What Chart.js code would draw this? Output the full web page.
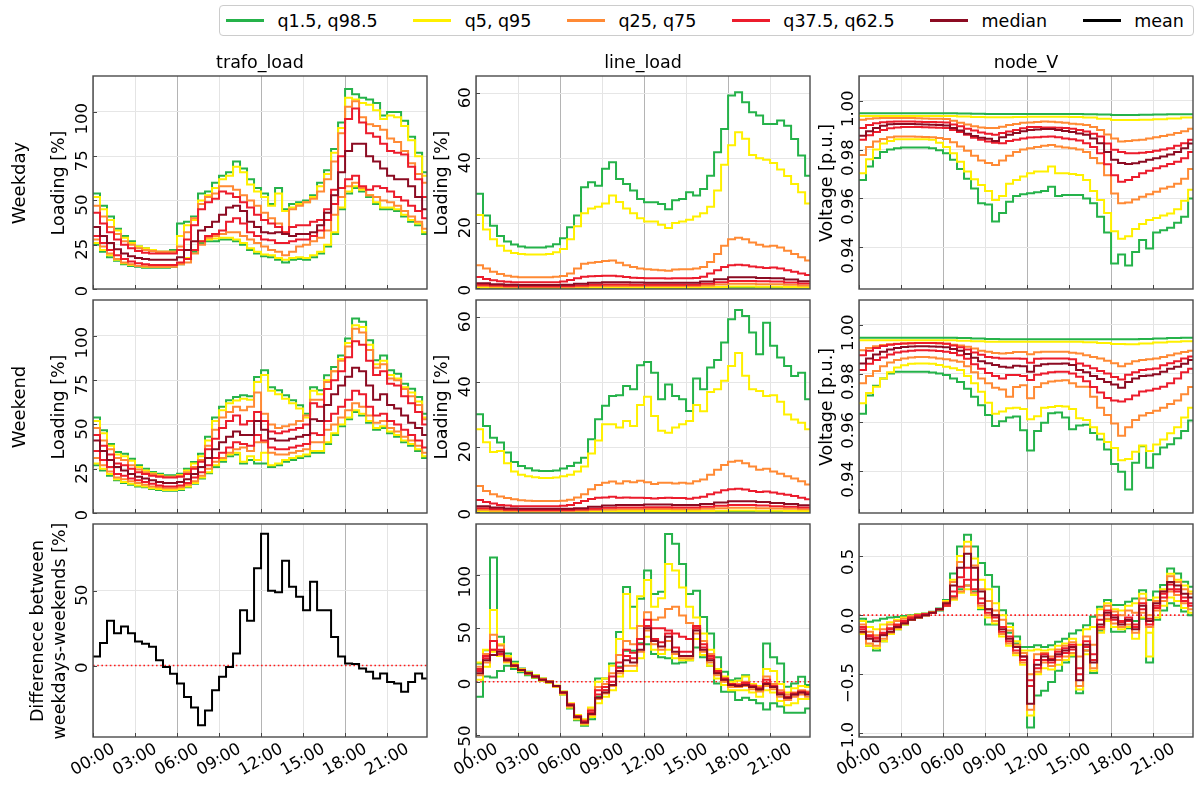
<!DOCTYPE html>
<html>
<head>
<meta charset="utf-8">
<script src="https://cdn.jsdelivr.net/npm/chart.js@4/dist/chart.umd.min.js"></script>
<style>
  body { margin: 0; background: #fff; font-family: "DejaVu Sans", sans-serif; }
  #fig { position: relative; width: 1196px; height: 785px; overflow: hidden; background: #fff; }
  canvas { position: absolute; }
  .lbl { position: absolute; white-space: nowrap; color: #000; line-height: 1; }
  .rot { transform: translate(-50%, -50%) rotate(-90deg); }
  .ctr { transform: translate(-50%, -50%); }
  #legend { position: absolute; left: 219px; top: 5px; width: 975px; height: 31px; border: 1px solid #cccccc;
            border-radius: 4px; display: flex; align-items: center; padding-left: 6px; box-sizing: border-box; }
  #legend .item { display: flex; align-items: center; margin-right: 35.5px; font-size: 17.5px;
                  white-space: nowrap; flex-shrink: 0; }
  #legend .swatch { width: 38px; height: 2.4px; margin-right: 13.5px; flex-shrink: 0; }
</style>
</head>
<body>
<div id="fig"><div id="legend"></div></div>
<script>
// x axis: one day, 00:00 .. 23:xx, values at regular steps
const hourTicks = [0, 3, 6, 9, 12, 15, 18, 21]
const hourLabels = ["00:00", "03:00", "06:00", "09:00", "12:00", "15:00", "18:00", "21:00"]

// y ticks per panel type
const trafoTicks = [0, 25, 50, 75, 100]
const lineTicks = [0, 20, 40, 60]
const nodeTicks = [0.94, 0.96, 0.98, 1.0]
const trafoDiffTicks = [0, 50]
const lineDiffTicks = [-50, 0, 50, 100]
const nodeDiffTicks = [-1.0, -0.5, 0.0, 0.5]

const colTitles = ["trafo_load", "line_load", "node_V"]
const rowTitles = ["Weekday", "Weekend"]
const legendNames = ["q1.5, q98.5", "q5, q95", "q25, q75", "q37.5, q62.5", "median", "mean"]
const legendColors = ["#25b24a", "#fff000", "#ff8a35", "#ec1c2c", "#8c0b22", "#000000"]

// ---- trafo_load, weekday (half-hour steps) ----
const trafoWd_q98_5 = [54,47,41,34,30,27,24,23,22,21,21,22, 37,38,41,54,55,60,64,66,72,68,62,57, 54,48,57,45,48,49,50,53,60,67,79,94, 113,110,108,107,105,98,100,100,95,86,77,66]
const trafoWd_q95 = [52,45,39,33,29,26,24,23,22,21,21,21, 30,36,39,50,53,57,62,64,69,66,59,55, 52,47,54,44,46,48,49,52,58,65,77,91, 108,107,105,104,101,96,98,97,92,84,75,64]
const trafoWd_q75 = [47,41,35,31,27,25,23,22,21.5,21,21,21, 24,32,40,48,52,54,58,58,56,53,50,47, 43,40,37,32,45,47,49,51,55,62,72,88, 103,106,97,93,92,90,85,83,78,71,65,60]
const trafoWd_q62_5 = [43,37,32,28,25,23,21.5,20.5,20,20,20,20, 22,28,36,45,49,51,55,54,52,49,46,42, 39,37,35,32,35,36,36,38,39,45,56,75, 96,102,94,88,86,82,78,77,76,69,62,52]
const trafoWd_med = [35,30,26,22.5,20,18.5,17.5,17,16.5,16.5,16.5,16.5, 18,22,27,33,35,38,42,46,47,44,38,35, 32,31.5,32,31,30,31,31,32,36,43,53,66, 78,82,82,75,72,68,64,62,62,58,52,45]
const trafoWd_q37_5 = [30,26,22,19,17,15.5,14.5,14,13.5,13.5,13.5,13.5, 15,17,22,27,30,31,33,38,40,37,32,30, 28,27.5,26,26,27,28,28,30,33,39,48,57, 62,64,58,56,58,57,55,52,50,47,44,40]
const trafoWd_q25 = [28,24,20,17,15,14,13,12.8,12.6,12.6,12.6,12.6, 14,15,20,25,29,30,31,32,32,30,28,26, 24,22,21,19,21,24,25,27,29,33,42,52, 58,60,57,53,52,50,49,47,44,41,38,34]
const trafoWd_q5 = [26,22,19,16.5,14.5,13.5,13,12.5,12.5,12.5,12.5,13, 14.5,17.5,22,27,28,28.5,29,29,28,26,23,21, 19.5,19,17.5,16.5,17.5,18,17.5,19,21,25,32,46, 55,58,56,53,49,46,46,45,42,39,37,32]
const trafoWd_q1_5 = [25,21,18,16,14,13,12.5,12,12,12,12,12.5, 14,17,21,26,27,27,28,28,27,25,22,20, 18.5,18,16.5,15,16.5,17,16.5,18,20,24,31,45, 54,57,55,52,48,45,45,44,41,38,36,31]

// ---- line_load, weekday ----
const lineWd_q98_5 = [29,22.3,19.2,16,14.3,13.4,12.8,12.5,12.5,12.5,12.8,13.5, 15.3,18.7,22.3,31,32.6,31.5,36.7,38.7,33.6,32,30,27.4, 26.4,26.4,25.9,24.3,27,27.4,29.5,28.5,30.5,34.6,41.8,49, 59.3,60.3,57.2,54.1,53.1,50.5,50.5,51.6,50,45.9,40.8,34.6]
const lineWd_q95 = [22.5,18,15,13,11.5,10.8,10.5,10.3,10.3,10.3,10.5,11, 12,15,19,23,24.5,25,26,28.5,26.5,24.5,23,21.5, 20.5,20.5,19.5,18.5,20,20.5,21,22,23,25,30,38, 44,48,46,41,40,39.5,38.5,36.5,34.5,32,29.5,26]
const lineWd_q75 = [7,6,5,4.3,3.8,3.5,3.3,3.3,3.3,3.3,3.3,3.5, 3.7,4.5,6,7.5,7.8,8,8.3,8.5,7.8,7,6.5,6, 5.8,5.6,5.5,5.3,5.7,5.8,5.8,6,6.5,8,10.5,13, 15,15.5,15,14,13.3,12.8,13,12.5,11.5,10.5,9.5,8.5]
const lineWd_q62_5 = [3.4,2.8,2.4,2.1,1.9,1.8,1.8,1.8,1.8,1.8,1.8,1.8, 2,2.5,3,3.5,3.6,3.7,3.8,3.8,3.6,3.4,3.2,3.1, 3,3,3,2.9,3,3,3,3.1,3.5,4.5,5.5,6.5, 7,7.2,7,6.6,6.4,6.2,6.3,6,5.5,5,4.5,4]
// hourly steps for the flat low bands
const lineWd_med = [1.5,1.2,1.0,0.9,0.9,0.9,1.0,1.3,1.6,1.8,1.8,1.7,1.6,1.6,1.6,1.6,2.0,2.7,3.3,3.3,3.1,3.0,2.6,2.1]
const lineWd_q37_5 = [1.0,0.8,0.6,0.55,0.55,0.55,0.6,0.8,1.0,1.1,1.1,1.0,1.0,1.0,1.0,1.0,1.3,1.8,2.2,2.2,2.1,2.0,1.7,1.4]
const lineWd_q25 = [0.6,0.45,0.35,0.3,0.3,0.3,0.35,0.45,0.6,0.65,0.65,0.6,0.6,0.6,0.6,0.6,0.8,1.1,1.3,1.3,1.2,1.2,1.0,0.8]
const lineWd_q5 = [0.2,0.15,0.12,0.1,0.1,0.1,0.12,0.15,0.2,0.22,0.22,0.2,0.2,0.2,0.2,0.2,0.25,0.35,0.45,0.45,0.4,0.4,0.35,0.25]
const lineWd_q1_5 = [0.05,0.04,0.03,0.03,0.03,0.03,0.03,0.04,0.05,0.06,0.06,0.05,0.05,0.05,0.05,0.05,0.07,0.1,0.15,0.15,0.13,0.12,0.1,0.07]

// ---- node_V, weekday ----
const nodeWd_q98_5 = [0.9948,0.9948,0.9948,0.9948,0.9948,0.9948,0.9948,0.9947,0.9946,0.9945,0.9945,0.9945,0.9945,0.9945,0.9945,0.9945,0.9944,0.9943,0.9941,0.9941,0.9942,0.9943,0.9944,0.9944]
const nodeWd_q95 = [0.9937,0.9937,0.9937,0.9937,0.9937,0.9937,0.9937,0.9935,0.9933,0.9932,0.9932,0.9933,0.9934,0.9934,0.9934,0.9933,0.9931,0.9926,0.9921,0.9921,0.9922,0.9924,0.9927,0.9931]
const nodeWd_q75 = [0.9922,0.9926,0.9928,0.9929,0.9929,0.9929,0.9929,0.9929,0.9928,0.9927,0.9926,0.9926, 0.9925,0.9918,0.991,0.9902,0.9895,0.989,0.9888,0.9888,0.9893,0.99,0.9905,0.991, 0.9911,0.9913,0.9915,0.9914,0.9912,0.991,0.9906,0.9903,0.99,0.9892,0.988,0.9862, 0.9845,0.9833,0.9835,0.9838,0.984,0.9845,0.985,0.9855,0.986,0.9868,0.9875,0.9885]
const nodeWd_q62_5 = [0.9888,0.99,0.9908,0.9912,0.9914,0.9915,0.9915,0.9915,0.9914,0.9913,0.9913,0.9912, 0.9911,0.9902,0.9895,0.9885,0.9878,0.987,0.9865,0.986,0.9868,0.9874,0.988,0.9887, 0.9892,0.9892,0.989,0.989,0.9889,0.9888,0.9885,0.988,0.9874,0.9865,0.9853,0.9825, 0.9799,0.979,0.9785,0.9785,0.9787,0.979,0.9795,0.98,0.9805,0.9815,0.9826,0.984]
const nodeWd_med = [0.9856,0.9875,0.9888,0.9897,0.9903,0.9905,0.9905,0.9904,0.9903,0.9902,0.9901,0.99, 0.9898,0.9888,0.9878,0.9865,0.9855,0.9848,0.9844,0.9835,0.985,0.986,0.9868,0.9875, 0.988,0.9882,0.9884,0.9884,0.988,0.9876,0.9872,0.9866,0.986,0.9845,0.9826,0.979, 0.9758,0.9745,0.9741,0.9744,0.975,0.9758,0.9764,0.9771,0.978,0.979,0.9805,0.9825]
const nodeWd_q37_5 = [0.984,0.9858,0.9872,0.988,0.9887,0.989,0.9892,0.9892,0.9892,0.9891,0.989,0.9889, 0.9888,0.988,0.9872,0.986,0.9848,0.984,0.9833,0.9828,0.9826,0.9835,0.984,0.9845, 0.9849,0.985,0.9852,0.9853,0.985,0.9845,0.9842,0.9837,0.9826,0.981,0.9785,0.974, 0.9695,0.9668,0.9675,0.9688,0.9703,0.9713,0.9723,0.9732,0.9741,0.975,0.9764,0.979]
const nodeWd_q25 = [0.9778,0.981,0.9833,0.9843,0.985,0.9853,0.9853,0.9853,0.9852,0.9851,0.985,0.9847, 0.9843,0.983,0.9812,0.9795,0.9775,0.9755,0.9745,0.9737,0.9755,0.9775,0.979,0.98, 0.9805,0.981,0.9815,0.9819,0.9812,0.9808,0.9805,0.98,0.979,0.9765,0.9744,0.9695, 0.962,0.958,0.9583,0.9595,0.9607,0.9617,0.9627,0.964,0.9648,0.966,0.968,0.972]
const nodeWd_q5 = [0.9703,0.976,0.98,0.9825,0.9835,0.9842,0.9842,0.9842,0.9842,0.9842,0.984,0.9828, 0.981,0.9785,0.975,0.971,0.9678,0.9655,0.963,0.9593,0.961,0.966,0.9675,0.969, 0.9703,0.971,0.971,0.973,0.9703,0.9703,0.97,0.9696,0.9675,0.963,0.9593,0.954, 0.9465,0.9435,0.9445,0.9475,0.9495,0.9511,0.952,0.953,0.9538,0.9555,0.959,0.9635]
const nodeWd_q1_5 = [0.9675,0.973,0.9765,0.979,0.98,0.9805,0.9808,0.9808,0.9808,0.9808,0.9805,0.9797, 0.9785,0.9758,0.972,0.968,0.964,0.958,0.9575,0.9505,0.954,0.9586,0.961,0.9617, 0.9621,0.9625,0.963,0.9648,0.961,0.9614,0.9614,0.9614,0.96,0.958,0.9525,0.946, 0.9333,0.937,0.9325,0.938,0.943,0.9395,0.946,0.947,0.948,0.95,0.9525,0.96]

// ---- trafo_load, weekend ----
const trafoWe_q98_5 = [54,46.7,39,34.5,33.5,30.7,27,25,23.2,22.2,21.3,21.3, 22.2,25,28.8,33.5,43,54,60,63.7,65.5,66.5,66,76.8, 80.6,71,69.3,66.5,63.7,60.8,56,71,69.3,77.8,82.5,89, 98.5,109.8,108,97.6,86.3,89,80.6,78.7,73,70.2,65.5,56]
const trafoWe_q95 = [52,45,38,33,32,29.5,26,24,22.5,21.5,20.5,20.5, 21.5,24,28,32,41,52,58,62,63.5,64.5,64,74, 78,69,67,64.5,62,59,54,69,67,75,80,87, 96,106,105,95,84,86,78,76,71,68,63,54]
const trafoWe_q75 = [48,41,36,31,30,27,24.5,23,22,21,20.5,20.5, 21,23,26,30,38,47,54,57,60,58,60,68, 56,50,48,49,50,52,55,64,64,74,80,86, 94,104,102,92,82,84,76,75,70,66,61,53]
const trafoWe_q62_5 = [44,38,33,28,27,25,23,22,21,20.5,20,20, 20.5,22,25,29,36,42,48,52,55,50,52,57, 52,46,45,46,47,48,50,62,60,70,75,80, 88,97,95,86,78,80,73,72,66,62,57,50]
const trafoWe_med = [41,35,30,26,24,22,20.5,19.5,18.5,17.5,17,17, 17.5,19,22,26,31,36,40,43,46,44,44,52, 47,42,41,41,42,43,44,53,52,61,67,72, 77,82,80,72,64,67,61,59,55,51,48,44]
const trafoWe_q37_5 = [35,30,26,22,21,19.5,18.5,17.5,16.5,15.5,15,15, 15.5,17,20,23,27,31,34,37,40,39,38,44, 41,37,36,36,37,38,39,45,44,52,56,60, 64,69,67,60,55,56,52,50,47,44,41,37]
const trafoWe_q25 = [31,27,23.5,20,19,18,17,16,15,14.5,14,14, 14.5,16,18,21,25,29,31,34,36,37,35,40, 40,34,33,33,34,35,36,40,40,47,50,54, 58,62,60,55,51,52,48,46,43,41,38,34]
const trafoWe_q5 = [28,25,22,19,17.5,16.5,15.5,15,14,13.5,13,13, 13.5,15,17,20,23,27,30,33,34,29,32,30, 34,27,28,30,31,32,33,35,35,40,45,50, 54,58,56,52,48,49,46,44,41,39,36,32]
const trafoWe_q1_5 = [27,24,21,18.5,17,16,15,14.5,13.5,13,12.5,12.5, 13,14.5,16.5,19.5,22.5,26,29,32,33,28,30,28, 28,26,27,29,30,31,32,34,34,39,44,49, 53,57,55,51,47,48,45,43,40,38,35,31]

// ---- line_load, weekend ----
const lineWe_q98_5 = [30.1,26.5,22.9,21.4,18.3,15.4,14.2,13.5,12.8,12.6,12.6,12.8, 13.4,14.2,15.2,16.7,22.4,28.6,32.7,35.7,36,38.8,37.8,45.2, 46.2,42.9,34.7,39.3,35.7,34.7,31.1,41.1,37.8,44.5,46.8,52.2, 59.4,62.2,60.4,55.3,48.6,58.3,51.2,47.6,45,41.9,42.9,34.7]
const lineWe_q95 = [25.5,21.5,18.5,18.8,15,12.5,11.5,11,10.7,10.5,10.5,10.6, 11,11.5,12.5,14,18,22,27,27,26,28,26.5,33, 35.5,29.6,25,24.4,26,27,28,33,31,37,37.8,40.4, 45,49,42,37.8,37.3,35.7,36,34,30,28.5,27.5,25.5]
const lineWe_q75 = [8,6.5,5.5,4.8,4.3,3.9,3.6,3.5,3.4,3.4,3.4,3.4, 3.5,3.8,4.5,5.5,7,8.3,9,9.4,8.8,9.5,9.2,9.6, 9.2,8.6,9,9,8.8,9,8.8,9.5,10,11.5,13,14.5, 15.5,15.8,15,14,13,13.3,12.5,11.8,11,10.3,9.5,8.5]
const lineWe_q62_5 = [3.7,3.1,2.6,2.2,2,1.8,1.8,1.8,1.8,1.8,1.8,1.8, 1.9,2.2,2.8,3.4,4,4.4,4.5,4.7,4.4,4.5,4.4,4.4, 4.3,4.2,4.3,4.4,4.3,4.3,4.1,4.4,4.7,5.5,6,6.7, 7,7.2,6.9,6.5,6.2,6.3,6,5.6,5.3,4.9,4.4,3.9]
const lineWe_med = [1.8,1.4,1.1,1.0,1.0,1.0,1.0,1.2,1.6,2.0,2.2,2.2,2.3,2.3,2.2,2.2,2.5,2.9,3.3,3.3,3.1,2.8,2.5,2.1]
const lineWe_q37_5 = [1.2,0.9,0.7,0.6,0.6,0.6,0.6,0.75,1.0,1.3,1.4,1.4,1.5,1.5,1.4,1.4,1.6,1.9,2.2,2.2,2.0,1.8,1.6,1.4]
const lineWe_q25 = [0.7,0.5,0.4,0.35,0.35,0.35,0.35,0.45,0.6,0.8,0.85,0.85,0.9,0.9,0.85,0.85,1.0,1.15,1.3,1.3,1.2,1.1,1.0,0.85]
const lineWe_q5 = [0.25,0.18,0.14,0.12,0.12,0.12,0.12,0.15,0.2,0.27,0.3,0.3,0.3,0.3,0.3,0.3,0.34,0.4,0.45,0.45,0.42,0.38,0.34,0.3]
const lineWe_q1_5 = [0.06,0.05,0.04,0.03,0.03,0.03,0.03,0.04,0.05,0.07,0.08,0.08,0.08,0.08,0.08,0.08,0.09,0.11,0.14,0.14,0.13,0.11,0.1,0.08]

// ---- node_V, weekend ----
const nodeWe_q98_5 = [0.9946,0.9946,0.9946,0.9946,0.9946,0.9946,0.9946,0.9945,0.9943,0.9941,0.994,0.994,0.994,0.994,0.994,0.994,0.994,0.994,0.994,0.994,0.9941,0.9943,0.9945,0.9946]
const nodeWe_q95 = [0.9936,0.9936,0.9936,0.9936,0.9936,0.9936,0.9936,0.9934,0.9932,0.993,0.993,0.993,0.993,0.993,0.993,0.993,0.9928,0.9925,0.9921,0.992,0.9923,0.9927,0.993,0.9932]
const nodeWe_q75 = [0.9895,0.9905,0.9912,0.9917,0.992,0.9922,0.9923,0.9924,0.9925,0.9925,0.9925,0.9924, 0.9922,0.9918,0.9915,0.991,0.9902,0.9893,0.9889,0.9884,0.9882,0.9884,0.9888,0.9888, 0.9879,0.9887,0.9889,0.9889,0.9889,0.9889,0.9885,0.9882,0.9875,0.9868,0.9862,0.9852, 0.9842,0.983,0.984,0.985,0.9855,0.9858,0.9862,0.9868,0.9875,0.9882,0.9888,0.9893]
const nodeWe_q62_5 = [0.9875,0.9893,0.9905,0.9913,0.9918,0.9921,0.9923,0.9924,0.9925,0.9925,0.9925,0.9924, 0.9922,0.9915,0.9908,0.9898,0.9886,0.9877,0.9868,0.9865,0.9862,0.9862,0.9862,0.986, 0.9844,0.986,0.9862,0.9862,0.9862,0.9862,0.9858,0.9841,0.9832,0.9822,0.981,0.98, 0.9786,0.9776,0.9795,0.9805,0.9814,0.9818,0.9821,0.9834,0.9842,0.985,0.9862,0.987]
const nodeWe_med = [0.9841,0.9862,0.9878,0.9889,0.9898,0.9905,0.9909,0.9911,0.9912,0.9912,0.9911,0.991, 0.9908,0.99,0.9893,0.988,0.9865,0.985,0.9842,0.9835,0.9828,0.9825,0.9832,0.983, 0.9807,0.9832,0.9838,0.984,0.984,0.9841,0.9835,0.9814,0.9805,0.979,0.9778,0.9765, 0.9755,0.9742,0.9765,0.978,0.979,0.9792,0.9797,0.9807,0.982,0.9828,0.984,0.9855]
const nodeWe_q37_5 = [0.9814,0.984,0.9855,0.9866,0.9878,0.9886,0.989,0.9893,0.9895,0.9895,0.9894,0.9892, 0.9889,0.9884,0.9875,0.986,0.9838,0.982,0.9802,0.979,0.978,0.9794,0.9794,0.979, 0.9773,0.9795,0.98,0.9805,0.9807,0.9807,0.98,0.9787,0.9768,0.9745,0.9722,0.97, 0.969,0.9685,0.9695,0.971,0.9726,0.973,0.9738,0.9746,0.976,0.978,0.9805,0.982]
const nodeWe_q25 = [0.976,0.979,0.981,0.983,0.9845,0.9855,0.9862,0.9866,0.9868,0.9868,0.9866,0.9862, 0.9858,0.9853,0.9848,0.983,0.9805,0.978,0.976,0.9742,0.9735,0.9705,0.9745,0.9752, 0.9699,0.9745,0.976,0.9767,0.977,0.9772,0.976,0.9746,0.9746,0.9705,0.966,0.963, 0.9595,0.9545,0.958,0.961,0.9628,0.9638,0.9648,0.966,0.9675,0.969,0.9715,0.9745]
const nodeWe_q5 = [0.9678,0.972,0.9746,0.978,0.9805,0.9825,0.9834,0.984,0.9841,0.9841,0.984,0.9835, 0.9828,0.9822,0.9814,0.979,0.976,0.9725,0.968,0.9635,0.9645,0.9658,0.966,0.9655, 0.9613,0.9625,0.966,0.9663,0.9667,0.9665,0.9655,0.9617,0.961,0.958,0.9553,0.952, 0.9495,0.9445,0.945,0.948,0.9505,0.9483,0.9509,0.953,0.9555,0.958,0.962,0.966]
const nodeWe_q1_5 = [0.9635,0.971,0.975,0.978,0.98,0.9807,0.9807,0.9807,0.9807,0.9807,0.9804,0.98, 0.9794,0.978,0.9765,0.9738,0.9705,0.967,0.963,0.9585,0.9605,0.962,0.9624,0.9568, 0.9485,0.9565,0.9598,0.9637,0.964,0.962,0.9572,0.9587,0.959,0.9557,0.953,0.9489, 0.943,0.9398,0.9325,0.9435,0.9502,0.9414,0.947,0.9497,0.951,0.9535,0.9565,0.9608]

// ---- differences weekdays - weekends [%] ----
const trafoDiff_mean = [6,15,30,21.5,26,21.5,16,14.5,12.5,3.5,-1,-5.5, -12,-21,-28,-40,-30,-16.5,-7.6,-1,8,37,30,65, 88,50,49,70,52.7,46,37,56,37,37,19,6, 1.3,1,-2,-4.2,-8.7,-5.4,-11,-12,-17.6,-11,-5.4,-8.7]

const lineDiff_q98_5 = [17,29.5,116,42,26.4,18.6,12.4,9.3,6.2,3.1,0,-4.7, -9.3,-23,-32.6,-37,-26.4,3,3,17,46.6,88.5,70,77.6, 104,82,84,138,129,110,82,85,60.6,45,23,9.3, 1.5,3,6.2,-4.7,-7.8,35.7,23,17,-4.7,-1.5,4.7,-3]
const lineDiff_q95 = [18,30,67,35,24,17,12,9,6,3,0.5,-3.5, -9,-20,-31,-35,-24,0,3,15,40,82,50,80, 95,70,78,110,104,88,70,60,45,30,12,5, 0,1,5,-2,-4,12,10,-2,-10,-6,-4,-5]
const lineDiff_q75 = [14,26,44,34,22,16,11.5,8.5,5.5,2.5,0,-4, -10,-21,-32,-36,-26,-5,-2,8,25,38,35,52, 65,58,60,68,70,62,55,50,38,26,10,3, -2,-2,0,-3,-5,5,-2,-8,-12,-10,-8,-9]
const lineDiff_q62_5 = [12,24,38,30,21,15.5,11,8,5,2,0,-4, -10,-21,-32,-37,-27,-8,-5,5,18,30,27,40, 58,50,50,48,45,42,40,52,35,24,10,3, -2,-3,-1,-4,-6,2,-4,-10,-14,-11,-9,-10]
const lineDiff_med = [8,20,25,28,20,15,11,8,5,2,0,-4, -10,-22,-33,-38,-30,-15,-10,-3,10,20,18,30, 50,38,33,42,28,24,24,48,30,20,8,2, -3,-4,-3,-5,-7,-2,-5,-12,-15,-12,-10,-12]
const lineDiff_q37_5 = [10,22,30,26,20,15,11,8,5,2,0,-4, -10,-22,-33,-38,-29,-12,-8,0,13,24,22,35, 52,40,37,45,32,28,28,50,32,22,9,2, -3,-4,-2,-5,-7,-1,-5,-11,-15,-12,-10,-11]
const lineDiff_q25 = [6,18,30,25,19,14.5,10.5,7.5,4.5,1.5,-0.5,-4.5, -11,-23,-34,-39,-31,-16,-11,-4,8,15,15,28, 48,35,30,38,26,22,22,45,28,18,6,0, -5,-5,-4,-7,-9,-4,-7,-14,-17,-14,-12,-14]
const lineDiff_q5 = [2,14,28,24,18,14,10,7,4,1,-1,-5, -12,-24,-35,-40,-33,-20,-14,-8,5,10,10,22, 42,30,26,30,22,20,20,40,25,15,3,-3, -8,-8,-8,-10,-14,-8,-10,-18,-22,-20,-16,-16]
const lineDiff_q1_5 = [-14,5,4,10,15,12,9,6,3.5,1,-1,-5, -12,-25,-36,-41,-35,-14,-8,-3,14,29,29,36, 35,26,23,22,17,18,20,32,23,15,-1.5,-9.3, -9.3,-17,-15,-17,-20,-26,-20,-23,-29,-29,-29,-25]

const nodeDiff_q98_5 = [-0.03,-0.056,-0.045,-0.03,-0.02,-0.015,-0.008,0,0.008,0.014,0.028,0.056, 0.127,0.353,0.58,0.68,0.58,0.44,0.34,0.24,0.042,-0.07,-0.18,-0.27, -0.27,-0.254,-0.27,-0.254,-0.226,-0.2,-0.155,-0.127,-0.085,-0.014,0.07,0.127, 0.085,0.085,0.113,0.141,0.21,0.127,0.2,0.254,0.395,0.353,0.282,0.24]
const nodeDiff_q95 = [-0.05,-0.1,-0.12,-0.08,-0.06,-0.04,-0.02,-0.005,0.005,0.012,0.025,0.05, 0.12,0.3,0.5,0.62,0.48,0.3,0.22,0.1,0,-0.1,-0.22,-0.3, -0.3,-0.29,-0.3,-0.29,-0.26,-0.24,-0.2,-0.25,-0.12,-0.1,0.05,0.1, 0.05,0.04,0.08,0.1,0.18,-0.15,0.15,0.22,0.35,0.3,0.25,0.2]
const nodeDiff_q75 = [-0.08,-0.14,-0.17,-0.12,-0.08,-0.05,-0.03,-0.01,0,0.01,0.02,0.05, 0.11,0.28,0.45,0.58,0.42,0.22,0.12,0.04,-0.04,-0.13,-0.25,-0.32, -0.5,-0.33,-0.32,-0.35,-0.29,-0.26,-0.23,-0.35,-0.18,-0.25,0,0.08, 0.03,0,0.04,0.02,0.14,0,0.12,0.2,0.33,0.28,0.22,0.18]
const nodeDiff_q62_5 = [-0.1,-0.17,-0.19,-0.15,-0.11,-0.08,-0.05,-0.02,0,0.01,0.02,0.05, 0.09,0.2,0.32,0.4,0.3,0.14,0.05,0,-0.1,-0.18,-0.27,-0.35, -0.55,-0.38,-0.33,-0.37,-0.31,-0.28,-0.25,-0.45,-0.22,-0.33,-0.04,0.04, 0,-0.05,-0.02,-0.08,0.1,-0.03,0.08,0.18,0.26,0.22,0.15,0.1]
const nodeDiff_med = [-0.14,-0.2,-0.22,-0.17,-0.14,-0.1,-0.07,-0.04,-0.02,0,0.02,0.05, 0.1,0.25,0.4,0.52,0.4,0.2,0.05,0,-0.12,-0.2,-0.27,-0.35, -0.75,-0.42,-0.35,-0.38,-0.33,-0.3,-0.27,-0.55,-0.25,-0.4,-0.08,0.02, -0.02,-0.08,-0.04,-0.12,0.08,-0.05,0.1,0.2,0.28,0.25,0.18,0.15]
const nodeDiff_q37_5 = [-0.12,-0.18,-0.2,-0.16,-0.12,-0.09,-0.06,-0.03,-0.01,0,0.02,0.05, 0.08,0.16,0.24,0.3,0.22,0.1,0.02,-0.02,-0.14,-0.22,-0.3,-0.38, -0.6,-0.45,-0.38,-0.4,-0.35,-0.32,-0.29,-0.5,-0.27,-0.38,-0.1,0, -0.04,-0.06,-0.05,-0.1,0.05,-0.08,0.06,0.15,0.22,0.2,0.12,0.08]
const nodeDiff_q25 = [-0.15,-0.24,-0.26,-0.2,-0.15,-0.11,-0.07,-0.04,-0.02,0,0.02,0.05, 0.08,0.14,0.2,0.25,0.19,0.08,0,-0.05,-0.16,-0.24,-0.32,-0.4, -0.8,-0.48,-0.4,-0.43,-0.38,-0.35,-0.32,-0.6,-0.3,-0.45,-0.12,-0.03, -0.07,-0.1,-0.08,-0.15,0.02,-0.1,0.04,0.12,0.2,0.17,0.1,0.05]
const nodeDiff_q5 = [-0.16,-0.26,-0.28,-0.22,-0.16,-0.12,-0.08,-0.04,-0.02,0,0.02,0.05, 0.08,0.13,0.19,0.22,0.17,0.06,-0.02,-0.07,-0.18,-0.26,-0.34,-0.42, -0.85,-0.5,-0.45,-0.46,-0.42,-0.38,-0.34,-0.63,-0.33,-0.47,-0.15,-0.05, -0.1,-0.12,-0.1,-0.2,-0.02,-0.35,-0.02,0.08,0.15,0.12,0.06,0.02]
const nodeDiff_q1_5 = [-0.16,-0.26,-0.3,-0.22,-0.16,-0.12,-0.08,-0.04,-0.02,0,0.02,0.04, 0.08,0.15,0.22,0.25,0.2,0.05,-0.08,-0.08,-0.1,-0.15,-0.24,-0.32, -0.95,-0.68,-0.64,-0.565,-0.47,-0.4,-0.35,-0.66,-0.3,-0.49,-0.13,-0.04, -0.14,-0.14,-0.11,-0.05,-0.03,-0.4,-0.04,0.04,0.1,0.08,0.03,0]

// ---- layout ----
const COL_LEFT = [93, 476, 859]
const ROW_TOP = [76, 300, 524]
const PLOT_W = 334
const PLOT_H = 213
const PAD_L = 78, PAD_R = 6, PAD_T = 6
const X_MAX = 23.85
const FONT = '"DejaVu Sans", sans-serif'

const fig = document.getElementById("fig")

// quantile bands, in drawing order (first = bottom)
const bandKeys = [
  ["q1_5", 0], ["q98_5", 0], ["q5", 1], ["q95", 1],
  ["q25", 2], ["q75", 2], ["q37_5", 3], ["q62_5", 3], ["med", 4],
]

const toPoints = (arr) => {
  const step = 24 / arr.length
  const pts = arr.map((v, i) => ({ x: i * step, y: v }))
  pts.push({ x: 24, y: arr[arr.length - 1] })
  return pts
}

const minus = (s) => s.replace("-", "\u2212")
const intFmt = (v) => minus(String(Math.round(v)))
const fix2 = (v) => v.toFixed(2)
const fix1 = (v) => minus((Math.abs(v) < 1e-9 ? 0 : v).toFixed(1))

const decor = {
  id: "decor",
  beforeDatasetsDraw(chart, args, opts) {
    if (!opts.zero) return
    const { ctx, chartArea: a, scales: { y } } = chart
    const py = y.getPixelForValue(0)
    ctx.save()
    ctx.strokeStyle = "#ff1a1a"
    ctx.lineWidth = 1.6
    ctx.setLineDash([1.6, 2.6])
    ctx.beginPath()
    ctx.moveTo(a.left, py)
    ctx.lineTo(a.right, py)
    ctx.stroke()
    ctx.restore()
  },
  afterDatasetsDraw(chart, args, opts) {
    const { ctx, chartArea: a, scales: { x, y } } = chart
    ctx.save()
    // inward tick marks
    ctx.strokeStyle = "#444"
    ctx.lineWidth = 1
    ctx.beginPath()
    x.ticks.forEach((t) => {
      const px = Math.round(x.getPixelForValue(t.value)) + 0.5
      ctx.moveTo(px, a.bottom)
      ctx.lineTo(px, a.bottom - 4)
    })
    y.ticks.forEach((t) => {
      const py = Math.round(y.getPixelForValue(t.value)) + 0.5
      ctx.moveTo(a.left, py)
      ctx.lineTo(a.left + 4, py)
    })
    ctx.stroke()
    // frame
    ctx.strokeStyle = "#4a4a4a"
    ctx.lineWidth = 1.4
    ctx.strokeRect(a.left, a.top, a.right - a.left, a.bottom - a.top)

    // y tick labels, rotated
    ctx.fillStyle = "#000"
    ctx.font = "16.5px " + FONT
    ctx.textAlign = "center"
    ctx.textBaseline = "alphabetic"
    y.ticks.forEach((t) => {
      const py = y.getPixelForValue(t.value)
      const s = opts.fmt(t.value)
      const w = ctx.measureText(s).width
      ctx.save()
      ctx.translate(a.left - 6, py + w * 0.22)
      ctx.rotate(-Math.PI / 2)
      ctx.fillText(s, 0, 0)
      ctx.restore()
    })

    // x tick labels (bottom row only)
    if (opts.xLabels) {
      ctx.textBaseline = "middle"
      x.ticks.forEach((t) => {
        const idx = hourTicks.indexOf(Math.round(t.value))
        if (idx < 0) return
        const px = x.getPixelForValue(t.value)
        ctx.save()
        ctx.translate(px, a.bottom + 23)
        ctx.rotate(-Math.PI / 6)
        ctx.fillText(hourLabels[idx], 0, 0)
        ctx.restore()
      })
    }
    ctx.restore()
  },
}

function makePanel(p) {
  const left = COL_LEFT[p.col]
  const top = ROW_TOP[p.row]
  const padB = p.row === 2 ? 52 : 6
  const w = PAD_L + PLOT_W + PAD_R
  const h = PAD_T + PLOT_H + padB

  const cv = document.createElement("canvas")
  cv.width = w
  cv.height = h
  cv.style.left = left - PAD_L + "px"
  cv.style.top = top - PAD_T + "px"
  cv.style.width = w + "px"
  cv.style.height = h + "px"
  fig.appendChild(cv)

  // first dataset is drawn on top in Chart.js, so reverse the drawing order
  const datasets = p.series
    .map((s) => ({
      data: toPoints(s.data),
      borderColor: s.color,
      borderWidth: 2,
      pointRadius: 0,
      stepped: "before",
      fill: false,
    }))
    .reverse()

  new Chart(cv, {
    type: "line",
    data: { datasets },
    options: {
      responsive: false,
      animation: false,
      events: [],
      layout: { autoPadding: false, padding: { left: PAD_L, right: PAD_R, top: PAD_T, bottom: padB } },
      plugins: {
        legend: { display: false },
        tooltip: { enabled: false },
        decor: { fmt: p.fmt, zero: p.row === 2, xLabels: p.row === 2 },
      },
      scales: {
        x: {
          type: "linear",
          min: 0,
          max: X_MAX,
          ticks: { display: false },
          afterBuildTicks: (s) => { s.ticks = hourTicks.map((v) => ({ value: v })) },
          grid: {
            drawTicks: false,
            lineWidth: 1,
            color: (c) => (c.tick && c.tick.value % 6 === 0 ? "#b4b4b4" : "#e4e4e4"),
          },
          border: { display: false },
          afterFit: (s) => { s.height = 0 },
        },
        y: {
          type: "linear",
          min: p.y[0],
          max: p.y[1],
          ticks: { display: false },
          afterBuildTicks: (s) => { s.ticks = p.ticks.map((v) => ({ value: v })) },
          grid: { drawTicks: false, color: "#e6e6e6", lineWidth: 1 },
          border: { display: false },
          afterFit: (s) => { s.width = 0 },
        },
      },
    },
    plugins: [decor],
  })
}

const bandSeries = (src) =>
  bandKeys.map(([k, ci]) => ({ data: src[k], color: legendColors[ci] }))

const trafoWd = { q1_5: trafoWd_q1_5, q98_5: trafoWd_q98_5, q5: trafoWd_q5, q95: trafoWd_q95, q25: trafoWd_q25, q75: trafoWd_q75, q37_5: trafoWd_q37_5, q62_5: trafoWd_q62_5, med: trafoWd_med }
const lineWd = { q1_5: lineWd_q1_5, q98_5: lineWd_q98_5, q5: lineWd_q5, q95: lineWd_q95, q25: lineWd_q25, q75: lineWd_q75, q37_5: lineWd_q37_5, q62_5: lineWd_q62_5, med: lineWd_med }
const nodeWd = { q1_5: nodeWd_q1_5, q98_5: nodeWd_q98_5, q5: nodeWd_q5, q95: nodeWd_q95, q25: nodeWd_q25, q75: nodeWd_q75, q37_5: nodeWd_q37_5, q62_5: nodeWd_q62_5, med: nodeWd_med }
const trafoWe = { q1_5: trafoWe_q1_5, q98_5: trafoWe_q98_5, q5: trafoWe_q5, q95: trafoWe_q95, q25: trafoWe_q25, q75: trafoWe_q75, q37_5: trafoWe_q37_5, q62_5: trafoWe_q62_5, med: trafoWe_med }
const lineWe = { q1_5: lineWe_q1_5, q98_5: lineWe_q98_5, q5: lineWe_q5, q95: lineWe_q95, q25: lineWe_q25, q75: lineWe_q75, q37_5: lineWe_q37_5, q62_5: lineWe_q62_5, med: lineWe_med }
const nodeWe = { q1_5: nodeWe_q1_5, q98_5: nodeWe_q98_5, q5: nodeWe_q5, q95: nodeWe_q95, q25: nodeWe_q25, q75: nodeWe_q75, q37_5: nodeWe_q37_5, q62_5: nodeWe_q62_5, med: nodeWe_med }
const lineDiff = { q1_5: lineDiff_q1_5, q98_5: lineDiff_q98_5, q5: lineDiff_q5, q95: lineDiff_q95, q25: lineDiff_q25, q75: lineDiff_q75, q37_5: lineDiff_q37_5, q62_5: lineDiff_q62_5, med: lineDiff_med }
const nodeDiff = { q1_5: nodeDiff_q1_5, q98_5: nodeDiff_q98_5, q5: nodeDiff_q5, q95: nodeDiff_q95, q25: nodeDiff_q25, q75: nodeDiff_q75, q37_5: nodeDiff_q37_5, q62_5: nodeDiff_q62_5, med: nodeDiff_med }

const panels = [
  { row: 0, col: 0, series: bandSeries(trafoWd), y: [0, 120.3], ticks: trafoTicks, fmt: intFmt },
  { row: 0, col: 1, series: bandSeries(lineWd), y: [-0.3, 65.3], ticks: lineTicks, fmt: intFmt },
  { row: 0, col: 2, series: bandSeries(nodeWd), y: [0.9229, 1.0101], ticks: nodeTicks, fmt: fix2 },
  { row: 1, col: 0, series: bandSeries(trafoWe), y: [0, 120.3], ticks: trafoTicks, fmt: intFmt },
  { row: 1, col: 1, series: bandSeries(lineWe), y: [-0.3, 65.3], ticks: lineTicks, fmt: intFmt },
  { row: 1, col: 2, series: bandSeries(nodeWe), y: [0.9229, 1.0101], ticks: nodeTicks, fmt: fix2 },
  { row: 2, col: 0, series: [{ data: trafoDiff_mean, color: legendColors[5] }], y: [-47.8, 94.6], ticks: trafoDiffTicks, fmt: intFmt },
  { row: 2, col: 1, series: bandSeries(lineDiff), y: [-51.6, 147.4], ticks: lineDiffTicks, fmt: intFmt },
  { row: 2, col: 2, series: bandSeries(nodeDiff), y: [-1.031, 0.771], ticks: nodeDiffTicks, fmt: fix1 },
]
panels.forEach(makePanel)

// ---- text around the panels ----
function addLabel(text, cx, cy, size, rotated) {
  const d = document.createElement("div")
  d.className = "lbl " + (rotated ? "rot" : "ctr")
  d.style.left = cx + "px"
  d.style.top = cy + "px"
  d.style.fontSize = size + "px"
  d.textContent = text
  fig.appendChild(d)
}

const rowMid = ROW_TOP.map((t) => t + PLOT_H / 2)
colTitles.forEach((t, i) => addLabel(t, COL_LEFT[i] + PLOT_W / 2, 63, 17.5, false))
rowTitles.forEach((t, i) => addLabel(t, 19, rowMid[i], 18, true))
for (let r = 0; r < 2; r++) {
  addLabel("Loading [%]", 59, rowMid[r], 17.5, true)
  addLabel("Loading [%]", 442, rowMid[r], 17.5, true)
  addLabel("Voltage [p.u.]", 827, rowMid[r], 17.5, true)
}
addLabel("Differenece between", 38, rowMid[2], 17.5, true)
addLabel("weekdays-weekends [%]", 60, rowMid[2], 17.5, true)

// legend
const legend = document.getElementById("legend")
legendNames.forEach((name, i) => {
  const item = document.createElement("div")
  item.className = "item"
  const sw = document.createElement("span")
  sw.className = "swatch"
  sw.style.background = legendColors[i]
  const tx = document.createElement("span")
  tx.textContent = name
  item.appendChild(sw)
  item.appendChild(tx)
  legend.appendChild(item)
})
</script>
</body>
</html>
